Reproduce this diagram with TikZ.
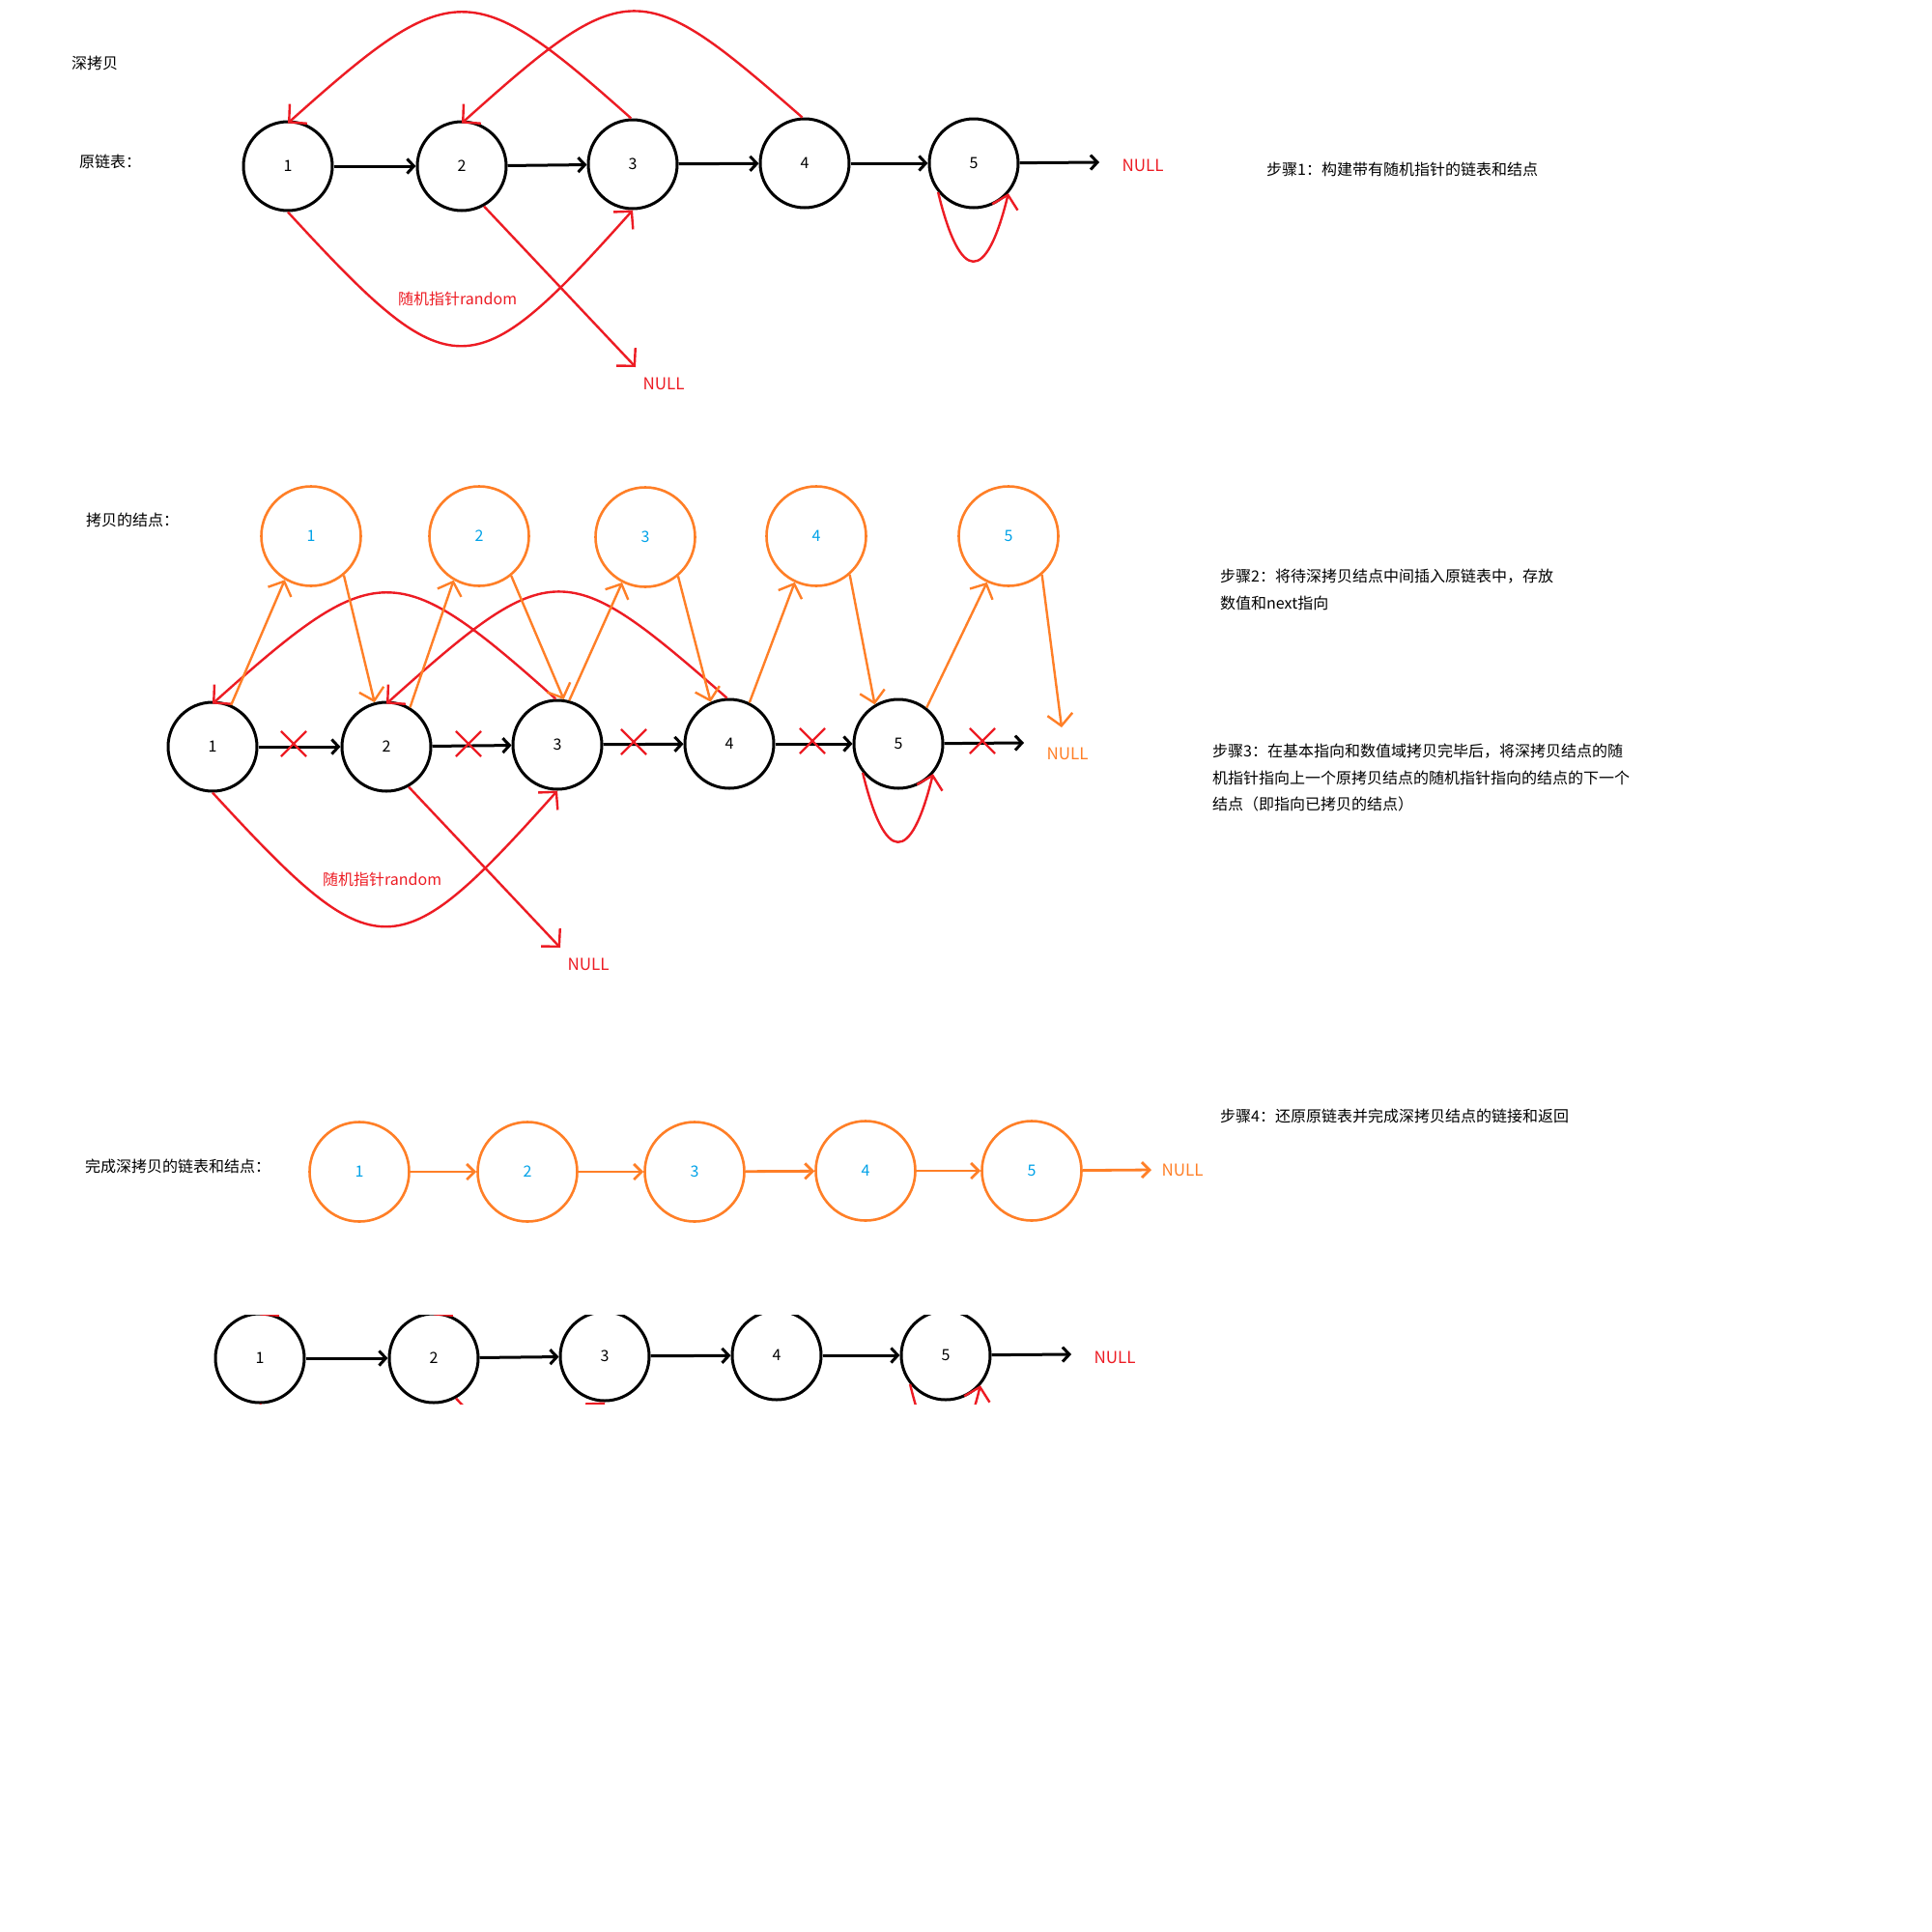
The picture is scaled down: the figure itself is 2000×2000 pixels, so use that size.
\documentclass[tikz,border=0pt]{standalone}
\usepackage{fontspec}
\setmainfont{Noto Sans CJK SC}
\usetikzlibrary{arrows.meta,shapes.misc}
\definecolor{pred}{HTML}{ED1C24}
\definecolor{porange}{HTML}{FF7F27}
\definecolor{pblue}{HTML}{00A2E8}

\tikzset{
  txt/.style={font=\fontsize{16}{16}\selectfont, inner sep=0pt, anchor=west},
  bnode/.style={circle, draw=black, line width=3pt, minimum size=92pt, inner sep=0pt,
    font=\fontsize{16}{16}\selectfont},
  onode/.style={circle, draw=porange, line width=2.6pt, minimum size=103pt, inner sep=0pt,
    text=pblue, font=\fontsize{16}{16}\selectfont},
  blk/.style={draw=black, line width=3pt, -{Straight Barb[length=7pt,width=15pt]}},
  rarr/.style={draw=pred, line width=2.4pt, -{Straight Barb[length=13pt,width=27pt]}},
  oarr/.style={draw=porange, line width=2.4pt, -{Straight Barb[length=12pt,width=26pt]}},
  oarrs/.style={draw=porange, line width=2.8pt, -{Straight Barb[length=8pt,width=16pt]}},
  xmark/.style={cross out, draw=pred, line width=2.2pt, minimum size=24pt, inner sep=0pt},
  nulltxt/.style={font=\fontsize{17}{17}\selectfont, inner sep=0pt},
}

% One original list 1..5 with its random pointers.
% #1 name prefix, #2 #3 shift, #4 options of the NULL after node 5
\newcommand\randomchain[4]{%
\begin{scope}[shift={(#2,#3)}]
  \node[bnode] (#1n1) at (298,172) {1};
  \node[bnode] (#1n2) at (478,172) {2};
  \node[bnode] (#1n3) at (655,170) {3};
  \node[bnode] (#1n4) at (833,169) {4};
  \node[bnode] (#1n5) at (1008,169) {5};
  \coordinate (#1end) at (1138,168);
  \node[nulltxt, #4] (#1null) at (1183,171) {NULL};
  \draw[blk] (#1n1) -- (#1n2);
  \draw[blk] (#1n2) -- (#1n3);
  \draw[blk] (#1n3) -- (#1n4);
  \draw[blk] (#1n4) -- (#1n5);
  \draw[blk] (#1n5) -- (#1end);
  % random pointers
  \draw[rarr] (#1n3.92) .. controls +(-166,-148) and +(170,-152) .. ([yshift=-3pt]#1n1.north);
  \draw[rarr] (#1n4.93) .. controls +(-168,-147) and +(172,-154) .. ([yshift=-3pt]#1n2.north);
  \draw[rarr] (#1n1.270) .. controls +(170,185) and +(-167,187) .. (#1n3.270);
  \coordinate (#1rnull) at (658,380);
  \draw[rarr] (#1n2.299) -- (#1rnull);
  \node[nulltxt, text=pred] (#1rnulltxt) at (687,397) {NULL};
  \draw[rarr] (#1n5.219) .. controls +(23,95) and +(-23,94) .. (#1n5.319);
  \node[txt, text=pred] (#1rlabel) at (412,309) {随机指针random};
\end{scope}}

\begin{document}
\begin{tikzpicture}[x=1pt, y=-1pt]
\fill[white] (0,0) rectangle (2000,2000);
\useasboundingbox (0,0) rectangle (2000,2000);

% labels and step notes
\node[txt] (title) at (74,65) {深拷贝};
\node[txt] (lorig) at (82,167) {原链表：};
\node[txt] (lcopy) at (89,538) {拷贝的结点：};
\node[txt] (ldone) at (88,1207) {完成深拷贝的链表和结点：};
\node[txt] (s1) at (1311,175) {步骤1：构建带有随机指针的链表和结点};
\node[txt] (s2a) at (1263,597) {步骤2：将待深拷贝结点中间插入原链表中，存放};
\node[txt] (s2b) at (1263,624) {数值和next指向};
\node[txt] (s3a) at (1255,778) {步骤3：在基本指向和数值域拷贝完毕后，将深拷贝结点的随};
\node[txt] (s3b) at (1255,805) {机指针指向上一个原拷贝结点的随机指针指向的结点的下一个};
\node[txt] (s3c) at (1255,832) {结点（即指向已拷贝的结点）};
\node[txt] (s4) at (1263,1155) {步骤4：还原原链表并完成深拷贝结点的链接和返回};

% step 1: original list
\randomchain{a}{0}{0}{text=pred}

% step 2/3: copies woven into the list
\randomchain{b}{-78}{601}{text=porange, yshift=-8pt}
\node[onode] (o1) at (322,555) {1};
\node[onode] (o2) at (496,555) {2};
\node[onode] (o3) at (668,556) {3};
\node[onode] (o4) at (845,555) {4};
\node[onode] (o5) at (1044,555) {5};
\coordinate (onull) at (1099,753);
\draw[oarr] (bn1.66) -- (o1.239);
\draw[oarr] (o1.310) -- (bn2.105);
\draw[oarr] (bn2.59) -- (o2.240);
\draw[oarr] (o2.309) -- (bn3.82);
\draw[oarr] (bn3.75) -- (o3.243);
\draw[oarr] (o3.310) -- (bn4.114);
\draw[oarr] (bn4.64) -- (o4.245);
\draw[oarr] (o4.311) -- (bn5.121);
\draw[oarr] (bn5.52) -- (o5.245);
\draw[oarr] (o5.311) -- (onull);
\node[xmark] (x1) at (304,770) {};
\node[xmark] (x2) at (485,770) {};
\node[xmark] (x3) at (656,768) {};
\node[xmark] (x4) at (841,767) {};
\node[xmark] (x5) at (1017,767) {};

% step 4: the finished copy
\node[onode] (c1) at (372,1213) {1};
\node[onode] (c2) at (546,1213) {2};
\node[onode] (c3) at (719,1213) {3};
\node[onode] (c4) at (896,1212) {4};
\node[onode] (c5) at (1068,1212) {5};
\coordinate (cend) at (1192,1211);
\node[nulltxt, text=porange] (cnull) at (1224,1211) {NULL};
\draw[oarrs] (c1) -- (c2);
\draw[oarrs] (c2) -- (c3);
\draw[oarrs] (c3) -- (c4);
\draw[oarrs] (c4) -- (c5);
\draw[oarrs] (c5) -- (cend);

% the restored original list
\begin{scope}
  \clip (0,1361) rectangle (2000,1453);
  \randomchain{d}{-29}{1234}{text=pred}
\end{scope}
\end{tikzpicture}
\end{document}
